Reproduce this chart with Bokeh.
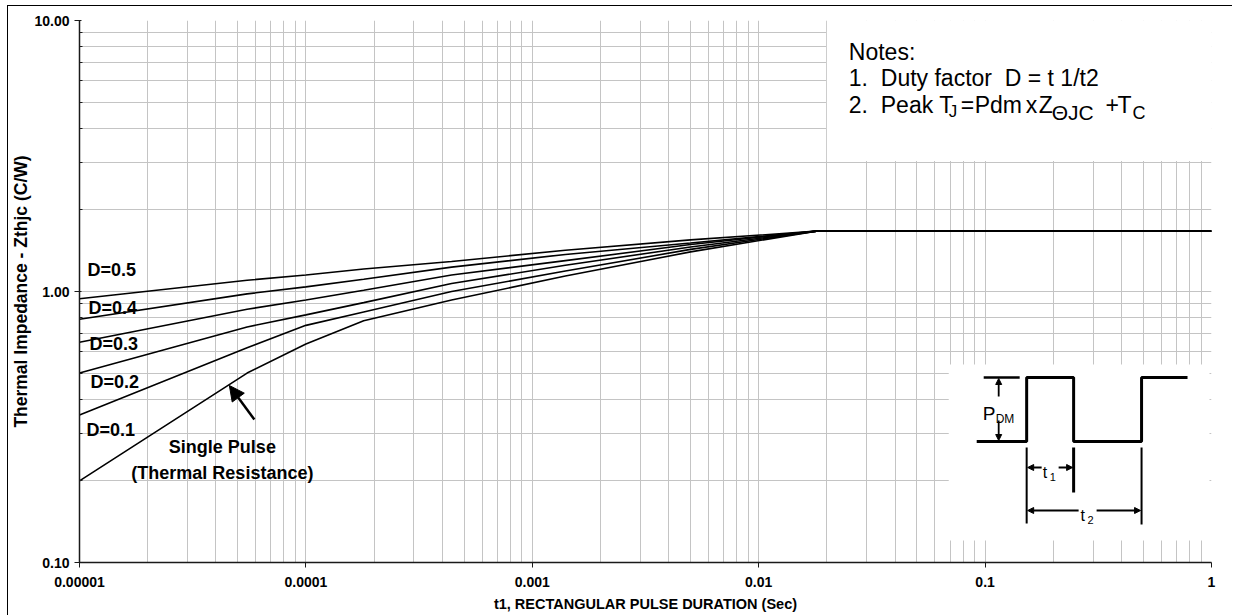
import math
from bokeh.plotting import figure
from bokeh.models import (Range1d, LinearScale, FixedTicker, Label, Arrow,
                          NormalHead, CustomJSTickFormatter)
from bokeh.embed import file_html
from bokeh.resources import INLINE

# ---------------- data ----------------
t_vals = [1e-5, 5.5e-5, 1e-4, 1.8e-4, 4.4e-4, 1.4e-3, 5e-3, 1.8e-2, 1.0]
z_d05 = [0.94, 1.10, 1.15, 1.21, 1.29, 1.42, 1.55, 1.67, 1.67]
z_d04 = [0.79, 0.98, 1.04, 1.11, 1.23, 1.37, 1.51, 1.67, 1.67]
z_d03 = [0.65, 0.86, 0.93, 1.01, 1.15, 1.30, 1.49, 1.67, 1.67]
z_d02 = [0.50, 0.74, 0.82, 0.91, 1.07, 1.25, 1.46, 1.67, 1.67]
z_d01 = [0.35, 0.62, 0.75, 0.84, 1.00, 1.19, 1.43, 1.67, 1.67]
z_single = [0.20, 0.50, 0.64, 0.78, 0.93, 1.14, 1.40, 1.67, 1.67]

d_labels = ["D=0.5", "D=0.4", "D=0.3", "D=0.2", "D=0.1"]
x_major = [1e-5, 1e-4, 1e-3, 1e-2, 1e-1, 1.0]
y_major = [0.1, 1.0, 10.0]
x_title = "t1, RECTANGULAR PULSE DURATION (Sec)"
y_title = "Thermal Impedance - Zthjc (C/W)"

FONT = "Liberation Sans"
GRID = "#c4c4c4"

x_minor = [m * 10 ** e for e in range(-5, 0) for m in range(2, 10)]
y_minor = [m * 10 ** e for e in range(-1, 1) for m in range(2, 10)]

# figure offset inside the window (outer chart-area frame drawn by CSS border)
OX, OY = 8, 6
W, H = 1225, 610
p = figure(width=W, height=H, x_axis_type="log", y_axis_type="log",
           x_range=Range1d(1e-5, 1.0), y_range=Range1d(0.1, 10.0),
           output_backend="svg", toolbar_location=None, title=None,
           min_border_left=78 - OX, min_border_right=OX + W - 1211,
           min_border_top=20 - OY, min_border_bottom=OY + H - 562)
p.styles = {"margin-left": "7px", "margin-top": "5px",
            "border-left": "1px solid black", "border-top": "1px solid black"}
p.background_fill_color = "white"
p.border_fill_color = "white"
p.outline_line_color = None

# pixel-like overlay coordinates for decorations (frame: 78..1211, 20..562)
p.extra_x_ranges = {"px": Range1d(78, 1211)}
p.extra_x_scales = {"px": LinearScale()}
p.extra_y_ranges = {"px": Range1d(562, 20)}
p.extra_y_scales = {"px": LinearScale()}

xt = FixedTicker(ticks=x_major, minor_ticks=x_minor)
yt = FixedTicker(ticks=y_major, minor_ticks=y_minor)
p.xaxis.ticker = xt
p.yaxis.ticker = yt
p.xgrid.ticker = xt
p.ygrid.ticker = yt
for g in (p.xgrid, p.ygrid):
    g.grid_line_color = GRID
    g.grid_line_width = 1
    g.minor_grid_line_color = GRID
    g.minor_grid_line_width = 1

p.xaxis.formatter = CustomJSTickFormatter(code="""
const e = Math.round(Math.log10(tick));
return e >= 0 ? tick.toFixed(0) : tick.toFixed(-e);
""")
p.yaxis.formatter = CustomJSTickFormatter(code="return tick.toFixed(2);")

for ax in (p.xaxis[0], p.yaxis[0]):
    ax.axis_line_color = "#1a1a1a"
    ax.axis_line_width = 1.5
    ax.major_tick_line_color = "#1a1a1a"
    ax.minor_tick_line_color = "#1a1a1a"
    ax.major_label_text_font = FONT
    ax.major_label_text_font_style = "bold"
    ax.major_label_text_font_size = "14px"
    ax.major_label_text_color = "black"
    ax.axis_label_text_font = FONT
    ax.axis_label_text_font_style = "bold"
    ax.axis_label_text_color = "black"
p.xaxis.major_tick_out = 5
p.xaxis.major_tick_in = 0
p.xaxis.minor_tick_out = 0
p.xaxis.minor_tick_in = 0
p.xaxis.major_label_standoff = 9
p.xaxis.axis_label = x_title
p.xaxis.axis_label_text_font_size = "14.5px"
p.xaxis.axis_label_standoff = 6
p.yaxis.major_tick_out = 5
p.yaxis.major_tick_in = 2
p.yaxis.minor_tick_out = 0
p.yaxis.minor_tick_in = 3
p.yaxis.major_label_standoff = 5
p.yaxis.axis_label = y_title
p.yaxis.axis_label_text_font_size = "17.5px"
p.yaxis.axis_label_standoff = 0

PX = dict(x_range_name="px", y_range_name="px")

# white boxes for notes and inset diagram
p.quad(left=[826], right=[1214], top=[17], bottom=[160.5],
       fill_color="white", line_color=None, **PX)
p.quad(left=[948], right=[1209], top=[364], bottom=[540],
       fill_color="white", line_color=None, **PX)

# curves
for z in (z_d05, z_d04, z_d03, z_d02, z_d01, z_single):
    p.line(t_vals, z, line_color="black", line_width=1.6)


def lab(x, y, text, size, bold=False, align="left", baseline="alphabetic", angle=0.0):
    p.add_layout(Label(x=x, y=y, text=text, text_font=FONT,
                       text_font_size=f"{size}px",
                       text_font_style="bold" if bold else "normal",
                       text_align=align, text_baseline=baseline,
                       text_color="black", angle=angle, **PX))


# curve labels
d_pos = [(86, 269), (87, 307), (88, 343), (89, 381), (85, 429)]
for txt, (lx, ly) in zip(d_labels, d_pos):
    lab(lx, ly, txt, 18, bold=True, baseline="middle")
lab(221, 446, "Single Pulse", 18, bold=True, align="center", baseline="middle")
lab(221, 472, "(Thermal Resistance)", 18, bold=True, align="center", baseline="middle")

# arrow to single pulse curve
p.add_layout(Arrow(x_start=253, y_start=419, x_end=228, y_end=385,
                   line_width=2.5, line_color="black",
                   end=NormalHead(size=15, fill_color="black", line_color="black"),
                   **PX))

# notes
NB = "\u00a0"
lab(848, 51, "Notes:", 23)
lab(848, 77, f"1.{NB} Duty factor {NB}D = t 1/t2", 23)
lab(848, 104, f"2.{NB} Peak T", 23)
lab(948, 111, "J", 17)
lab(960, 104, "=", 23)
lab(974, 104, "Pdm", 23)
lab(1025, 104, "x", 23)
lab(1038, 104, "Z", 23)
lab(1051, 112, "\u0398JC", 21)
lab(1105, 104, "+", 23)
lab(1117, 104, "T", 23)
lab(1132, 112, "C", 18)

# inset pulse diagram (decoration, overlay pixel coordinates)
p.line([976, 1026, 1026, 1073, 1073, 1141, 1141, 1187],
       [441, 441, 377, 377, 441, 441, 377, 377],
       line_color="black", line_width=3, **PX)
p.line([983, 1019], [377, 377], line_color="black", line_width=2.5, **PX)
p.line([1026, 1026], [447, 523], line_color="black", line_width=2, **PX)
p.line([1073, 1073], [447, 492], line_color="black", line_width=3, **PX)
p.line([1141, 1141], [447, 524], line_color="black", line_width=2, **PX)


def small_arrow(x0, y0, x1, y1):
    p.add_layout(Arrow(x_start=x0, y_start=y0, x_end=x1, y_end=y1,
                       line_width=1.8, line_color="black",
                       end=NormalHead(size=6, fill_color="black", line_color="black"),
                       **PX))


small_arrow(998, 396, 998, 378)
small_arrow(998, 420, 998, 440)
small_arrow(1041, 467, 1027, 467)
small_arrow(1058, 467, 1072, 467)
small_arrow(1078, 510, 1027, 510)
small_arrow(1096, 510, 1140, 510)
lab(982, 413, "P", 19)
lab(995, 418, "DM", 12)
lab(1042, 472, "t", 16)
lab(1049, 476, "1", 11)
lab(1080, 515, "t", 16)
lab(1087, 519, "2", 11)

open("out.html", "w").write(file_html(p, INLINE))
